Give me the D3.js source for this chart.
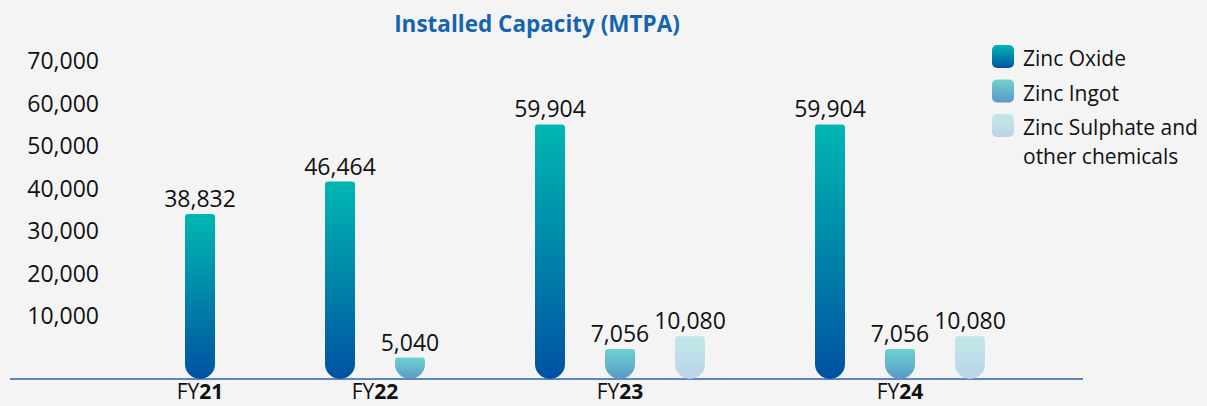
<!DOCTYPE html>
<html>
<head>
<meta charset="utf-8">
<script src="https://cdn.jsdelivr.net/npm/d3@7"></script>
<style>
  body { margin: 0; background: #f4f4f4; }
  svg { display: block; font-family: 'Open Sans', sans-serif; }
</style>
</head>
<body>
<div id="chart"></div>
<script>
// data
const years = ['FY21', 'FY22', 'FY23', 'FY24'];
const zincOxide = [38832, 46464, 59904, 59904];
const zincIngot = [null, 5040, 7056, 7056];
const zincSulphate = [null, null, 10080, 10080];
const seriesNames = ['Zinc Oxide', 'Zinc Ingot', 'Zinc Sulphate and other chemicals'];
const yTicks = [10000, 20000, 30000, 40000, 50000, 60000, 70000];

const width = 1207, height = 406;
const baseY = 379;

const svg = d3.select('#chart').append('svg')
    .attr('width', width)
    .attr('height', height);

svg.append('rect').attr('width', width).attr('height', height).attr('fill', '#f4f4f4');

// gradients for each series
const gradStops = [
    ['#00b7b1', '#0052a2'],
    ['#6ed2d0', '#5a98c8'],
    ['#c2e9e9', '#bcd2ea']
];
const defs = svg.append('defs');
gradStops.forEach((s, i) => {
    const g = defs.append('linearGradient')
        .attr('id', 'grad' + i)
        .attr('x1', 0).attr('y1', 0).attr('x2', 0).attr('y2', 1);
    g.append('stop').attr('offset', '0%').attr('stop-color', s[0]);
    g.append('stop').attr('offset', '100%').attr('stop-color', s[1]);
});

// flatten bars into slots, with an empty slot between the years
const allSeries = [zincOxide, zincIngot, zincSulphate];
const bars = [];
const slots = [];
years.forEach((yr, i) => {
    allSeries.forEach((arr, s) => {
        if (arr[i] != null) {
            const key = yr + '-' + s;
            bars.push({ key: key, year: yr, series: s, value: arr[i] });
            slots.push(key);
        }
    });
    if (i < years.length - 1) slots.push('gap' + i);
});

const xScale = d3.scalePoint().domain(slots).range([200, 970]);
const yScale = d3.scaleLinear().domain([0, 70000]).range([baseY, baseY - 297.5]);

const barW = 30;

// title
svg.append('text')
    .attr('x', 537).attr('y', 32)
    .attr('text-anchor', 'middle')
    .attr('font-size', 22.5).attr('font-weight', 700)
    .attr('fill', '#1664b0')
    .text('Installed Capacity (MTPA)');

// y axis labels (no line)
const yAxis = d3.axisLeft(yScale).tickValues(yTicks).tickSize(0).tickPadding(0)
    .tickFormat(d3.format(','));
const yAxisGroup = svg.append('g').attr('transform', 'translate(99,0)').call(yAxis);
yAxisGroup.select('.domain').remove();
yAxisGroup.selectAll('text')
    .attr('font-size', 23)
    .attr('font-family', 'Open Sans, sans-serif')
    .attr('fill', '#111')
    .attr('dy', -13);

// baseline
svg.append('line')
    .attr('x1', 10).attr('x2', 1083)
    .attr('y1', baseY).attr('y2', baseY)
    .attr('stroke', '#2b62ac').attr('stroke-width', 1.5);

// bar path: round bottom, small radius top
function barPath(cx, top, bottom) {
    const r = barW / 2, rt = 3;
    const l = cx - r, rr = cx + r;
    const h = bottom - top;
    const rb = Math.min(r, h - rt);
    return `M${l},${top + rt} Q${l},${top} ${l + rt},${top} L${rr - rt},${top} Q${rr},${top} ${rr},${top + rt}`
        + ` L${rr},${bottom - rb} A${r},${rb} 0 0 1 ${l},${bottom - rb} Z`;
}

svg.append('g').selectAll('path')
    .data(bars)
    .enter()
    .append('path')
    .attr('d', d => barPath(xScale(d.key), yScale(d.value), baseY))
    .attr('fill', d => 'url(#grad' + d.series + ')');

// value labels
svg.append('g').selectAll('text')
    .data(bars)
    .enter()
    .append('text')
    .attr('x', d => xScale(d.key))
    .attr('y', d => yScale(d.value) - 7)
    .attr('text-anchor', 'middle')
    .attr('font-size', 23)
    .attr('fill', '#111')
    .text(d => d3.format(',')(d.value));

// year labels, centred under each year's bars
const yearLabels = svg.append('g').selectAll('text')
    .data(years)
    .enter()
    .append('text')
    .attr('x', yr => d3.mean(bars.filter(b => b.year === yr), b => xScale(b.key)))
    .attr('y', 399)
    .attr('text-anchor', 'middle')
    .attr('font-size', 21)
    .attr('fill', '#111');
yearLabels.append('tspan').text(yr => yr.slice(0, 2));
yearLabels.append('tspan').attr('font-weight', 700).text(yr => yr.slice(2));

// legend
const legend = svg.append('g').attr('transform', 'translate(992,45)');
seriesNames.forEach((name, i) => {
    const g = legend.append('g').attr('transform', 'translate(0,' + (i * 34.5) + ')');
    g.append('rect')
        .attr('width', 22).attr('height', 23).attr('rx', 5)
        .attr('fill', 'url(#grad' + i + ')');
    const t = g.append('text')
        .attr('x', 31).attr('y', 21)
        .attr('font-size', 21)
        .attr('fill', '#111');
    if (i === 2) {
        t.append('tspan').text('Zinc Sulphate and');
        t.append('tspan').attr('x', 31).attr('dy', 29).text('other chemicals');
    } else {
        t.text(name);
    }
});
</script>
</body>
</html>
